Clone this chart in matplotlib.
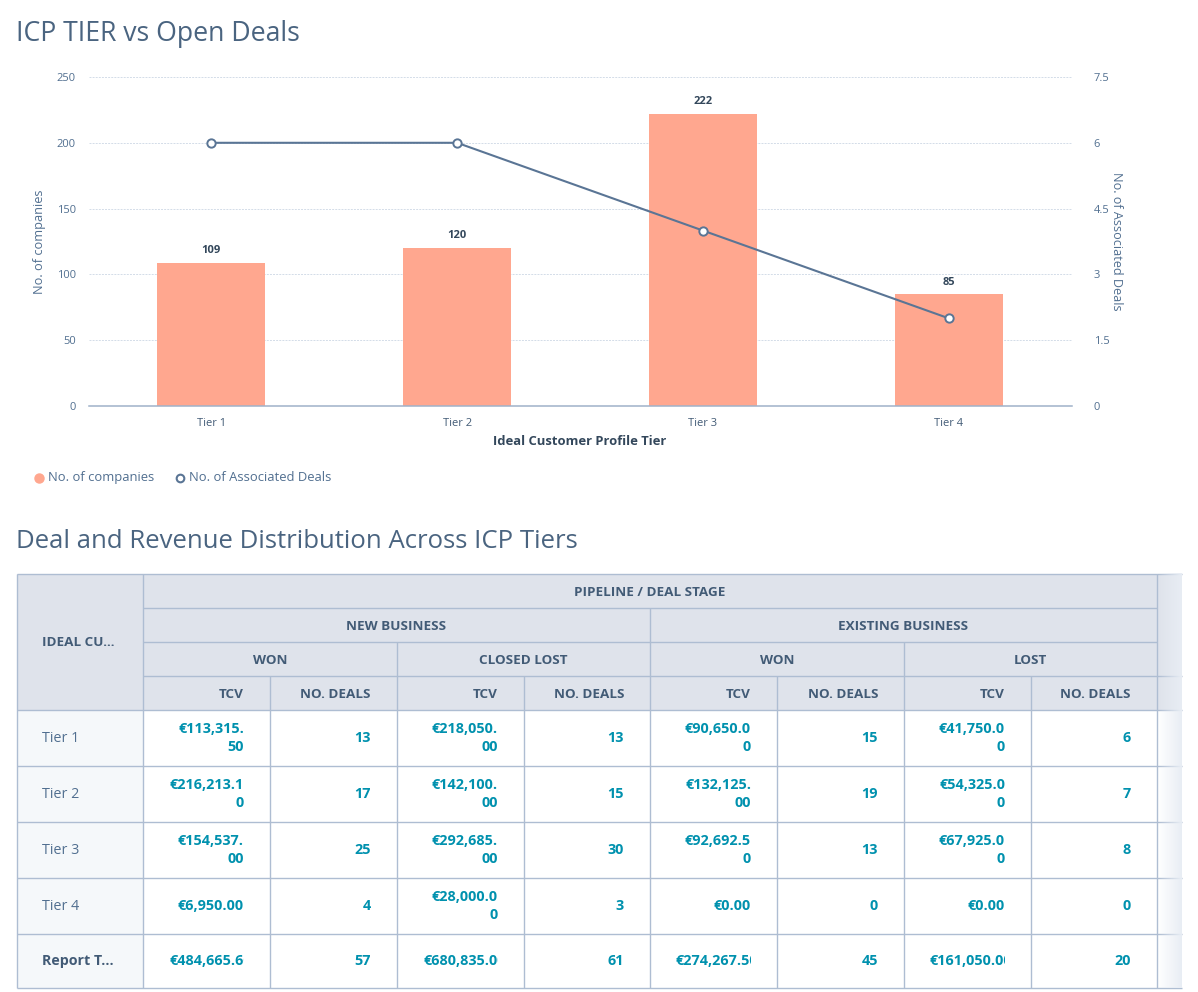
import numpy as np
import matplotlib
matplotlib.use("Agg")
import matplotlib.pyplot as plt
from matplotlib.colors import LinearSegmentedColormap
from matplotlib.patches import Rectangle

plt.rcParams['font.family'] = ['Open Sans', 'DejaVu Sans']

W, H = 1198, 992

# chart data
tiers = ["Tier 1", "Tier 2", "Tier 3", "Tier 4"]
companies = [109, 120, 222, 85]
assoc_deals = [6, 6, 4, 2]
left_ticks = [0, 50, 100, 150, 200, 250]
right_ticks = [0, 1.5, 3, 4.5, 6, 7.5]
right_labels = ["0", "1.5", "3", "4.5", "6", "7.5"]

# table data
row_names = ["Tier 1", "Tier 2", "Tier 3", "Tier 4", "Report T..."]
tcv_new_won = ["€113,315.\n50", "€216,213.1\n0", "€154,537.\n00", "€6,950.00", "€484,665.60"]
deals_new_won = [13, 17, 25, 4, 57]
tcv_new_lost = ["€218,050.\n00", "€142,100.\n00", "€292,685.\n00", "€28,000.0\n0", "€680,835.00"]
deals_new_lost = [13, 15, 30, 3, 61]
tcv_ex_won = ["€90,650.0\n0", "€132,125.\n00", "€92,692.5\n0", "€0.00", "€274,267.50"]
deals_ex_won = [15, 19, 13, 0, 45]
tcv_ex_lost = ["€41,750.0\n0", "€54,325.0\n0", "€67,925.0\n0", "€0.00", "€161,050.00"]
deals_ex_lost = [6, 7, 8, 0, 20]

col_x = [17, 143, 270, 397, 524, 650, 777, 904, 1031, 1157]
row_y = [574, 608, 642, 676, 710, 766, 822, 878, 934, 988]
strip_x = 1182

INK = "#33475b"
SOFT = "#516f90"
GRID = "#d3dce8"
EDGE = "#aebdd2"
HEAD = "#dfe3eb"
STUB = "#f5f8fa"
TEAL = "#0091ae"
BAR = "#ffa78f"
LINE = "#5a7595"

fig = plt.figure(figsize=(W / 100, H / 100), dpi=100)

# page layer in pixel coordinates, used for titles and the table
page = fig.add_axes([0, 0, 1, 1])
page.set_xlim(0, W)
page.set_ylim(H, 0)
page.axis("off")

page.text(16, 34, "ICP TIER vs Open Deals", fontsize=19.2, color="#4a6480", va="center")
page.text(16, 541, "Deal and Revenue Distribution Across ICP Tiers", fontsize=18.5, color="#4a6480", va="center")

# chart
ax = fig.add_axes([88.5 / W, 1 - 406 / H, 983 / W, 329 / H])
ax.patch.set_alpha(0)
x = np.arange(len(tiers))
ax.bar(x, companies, width=0.44, color=BAR, zorder=2)
ax.set_xlim(-0.5, 3.5)
ax.set_ylim(0, 250)
ax.set_yticks(left_ticks)
ax.set_xticks(x)
ax.set_xticklabels(tiers)
ax.grid(axis="y", color=GRID, linewidth=0.7, linestyle=(0, (2, 1.2)), zorder=0)
ax.tick_params(length=0, labelsize=8, colors=SOFT, pad=9)
ax.tick_params(axis="x", pad=9, colors="#425b76")
for s in ["top", "left", "right"]:
    ax.spines[s].set_visible(False)
ax.spines["bottom"].set_color("#9fb2c9")
ax.spines["bottom"].set_linewidth(1.1)
ax.set_xlabel("Ideal Customer Profile Tier", fontsize=9.4, fontweight="bold", color=INK, labelpad=4)
ax.set_ylabel("No. of companies", fontsize=9.2, color=SOFT, labelpad=8)
for xi, v in zip(x, companies):
    ax.text(xi, v + 5, str(v), ha="center", va="bottom", fontsize=8, fontweight="bold", color=INK)

ax2 = ax.twinx()
ax2.patch.set_alpha(0)
ax2.plot(x, assoc_deals, color=LINE, linewidth=1.5, marker="o", markersize=6,
         markerfacecolor="white", markeredgecolor=LINE, markeredgewidth=1.4, zorder=5)
ax2.set_ylim(0, 7.5)
ax2.set_yticks(right_ticks)
ax2.set_yticklabels(right_labels)
ax2.tick_params(length=0, labelsize=8, colors=SOFT, pad=16)
for s in ["top", "left", "right", "bottom"]:
    ax2.spines[s].set_visible(False)
ax2.set_ylabel("No. of Associated Deals", fontsize=9.1, color=SOFT, rotation=270, labelpad=10)

# legend
page.plot([39], [478], marker="o", markersize=6.5, color=BAR, linestyle="none")
page.text(48, 477.5, "No. of companies", fontsize=9.35, color=SOFT, va="center")
page.plot([180], [478], marker="o", markersize=5.5, markerfacecolor="white", markeredgecolor=LINE,
          markeredgewidth=1.5, linestyle="none")
page.text(189, 477.5, "No. of Associated Deals", fontsize=9.35, color=SOFT, va="center")


def fill(x0, y0, x1, y1, color):
    page.add_patch(Rectangle((x0, y0), x1 - x0, y1 - y0, facecolor=color, edgecolor="none", zorder=1))


def vline(xp, y0, y1):
    page.plot([xp, xp], [y0, y1], color=EDGE, linewidth=1.0, zorder=3, solid_capstyle="butt")


def hline(yp, x0, x1):
    page.plot([x0, x1], [yp, yp], color=EDGE, linewidth=1.0, zorder=3, solid_capstyle="butt")


head_style = dict(fontsize=9.7, fontweight="bold", color="#425b76", va="center", zorder=4)

# table backgrounds
fill(col_x[0], row_y[0], strip_x, row_y[4], HEAD)
fill(col_x[0], row_y[4], col_x[1], row_y[-1], STUB)

# table rules
for yp in row_y[1:3]:
    hline(yp, col_x[1], col_x[-1])
hline(row_y[0], col_x[0], strip_x)
hline(row_y[3], col_x[1], strip_x)
for yp in row_y[4:]:
    hline(yp, col_x[0], strip_x)
for xp in (col_x[0], col_x[1], col_x[-1]):
    vline(xp, row_y[0], row_y[-1])
for xp in (col_x[3], col_x[7]):
    vline(xp, row_y[2], row_y[-1])
vline(col_x[5], row_y[1], row_y[-1])
for xp in (col_x[2], col_x[4], col_x[6], col_x[8]):
    vline(xp, row_y[3], row_y[-1])

# table header text
page.text(42, 642, "IDEAL CU...", **head_style)
page.text((col_x[1] + col_x[-1]) / 2, 592, "PIPELINE / DEAL STAGE", ha="center", **head_style)
page.text((col_x[1] + col_x[5]) / 2, 626, "NEW BUSINESS", ha="center", **head_style)
page.text((col_x[5] + col_x[-1]) / 2, 626, "EXISTING BUSINESS", ha="center", **head_style)
for i, label in enumerate(["WON", "CLOSED LOST", "WON", "LOST"]):
    page.text((col_x[1 + 2 * i] + col_x[3 + 2 * i]) / 2, 660, label, ha="center", **head_style)
for i in range(8):
    label = "NO. DEALS" if i % 2 else "TCV"
    page.text(col_x[i + 2] - 26, 694, label, ha="right", **head_style)

# table body
tcv_cols = [tcv_new_won, tcv_new_lost, tcv_ex_won, tcv_ex_lost]
deal_cols = [deals_new_won, deals_new_lost, deals_ex_won, deals_ex_lost]
for r, name in enumerate(row_names):
    yc = (row_y[r + 4] + row_y[r + 5]) / 2
    total = r == len(row_names) - 1
    page.text(42, yc, name, fontsize=10.3, va="center", zorder=4,
              color="#425b76" if total else SOFT, fontweight="bold" if total else "normal")
    for c in range(4):
        x0 = col_x[1 + 2 * c]
        x1 = col_x[2 + 2 * c]
        value = tcv_cols[c][r]
        if total:
            # the totals do not fit the cell, so they get cut off on the right
            t = page.text(x1 - 101, yc, value, ha="left", va="center", fontsize=10.4,
                          fontweight="bold", color=TEAL, zorder=4)
            # y axis runs downward here, negative height keeps the clip box upright on screen
            t.set_clip_path(Rectangle((x0, row_y[r + 5]), x1 - 26 - x0, row_y[r + 4] - row_y[r + 5],
                                      transform=page.transData))
            t.set_clip_on(True)
        else:
            page.text(x1 - 26, yc, value, ha="right", va="center", multialignment="right", fontsize=10.4,
                      fontweight="bold", color=TEAL, linespacing=1.45, zorder=4)
        page.text(col_x[3 + 2 * c] - 26, yc, str(deal_cols[c][r]), ha="right", va="center", fontsize=10.4,
                  fontweight="bold", color=TEAL, zorder=4)

# fade on the right edge where the table scrolls away
fade = LinearSegmentedColormap.from_list("fade", [(0.91, 0.93, 0.96, 0.0), (0.91, 0.93, 0.96, 1.0)])
page.imshow(np.linspace(0, 1, 64).reshape(1, -1), cmap=fade, aspect="auto", zorder=5,
            extent=(col_x[-1] + 1, strip_x, row_y[-1], row_y[0] - 1))
page.set_xlim(0, W)
page.set_ylim(H, 0)

fig.savefig("out.png", dpi=100, facecolor="white")
